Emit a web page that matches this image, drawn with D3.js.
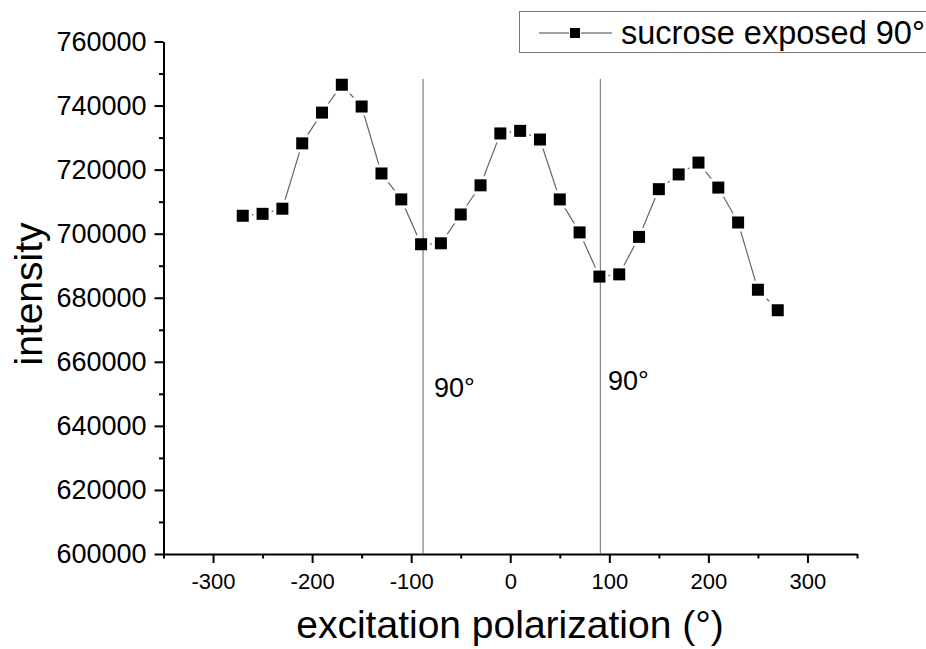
<!DOCTYPE html>
<html>
<head>
<meta charset="utf-8">
<script src="https://cdn.jsdelivr.net/npm/d3@7"></script>
<style>
  body { margin: 0; background: #fff; }
  text { font-family: "Liberation Sans", Arial, sans-serif; fill: #000; }
</style>
</head>
<body>
<div id="chart"></div>
<script>
// data
var angles = [-270, -250, -230, -210, -190, -170, -150, -130, -110, -90, -70, -50, -30, -10,
  10, 30, 50, 70, 90, 110, 130, 150, 170, 190, 210, 230, 250, 270];
var intensity = [705600, 706200, 707800, 728200, 737800, 746500, 739700, 718800, 710700, 696700,
  697000, 706000, 715100, 731300, 732100, 729400, 710700, 700400, 686600, 687300,
  699000, 713900, 718500, 722200, 714400, 703500, 682500, 676100];
var xTicks = [-300, -200, -100, 0, 100, 200, 300];
var xMinor = [-350, -250, -150, -50, 50, 150, 250, 350];
var yTicks = [600000, 620000, 640000, 660000, 680000, 700000, 720000, 740000, 760000];
var yMinor = [610000, 630000, 650000, 670000, 690000, 710000, 730000, 750000];
var markerLines = [-88, 91];   // the two "90°" guide lines
var seriesName = 'sucrose exposed 90°';

var width = 926;
var height = 649;

var svg = d3.select('#chart')
    .append('svg')
    .attr('width', width)
    .attr('height', height);

// Scales
var scaleX = d3.scaleLinear()
    .domain([-350, 350])
    .range([163.5, 857]);

var scaleY = d3.scaleLinear()
    .domain([600000, 760000])
    .range([554, 41.5]);

// plain hyphen for negatives, as in the original
var plain = function(d) { return String(d); };

// Axes
var xAxis = svg.append('g')
    .attr('transform', 'translate(0,554)')
    .call(d3.axisBottom(scaleX).tickValues(xTicks).tickSize(9).tickSizeOuter(0).tickPadding(10)
      .tickFormat(plain));
xAxis.selectAll('text').attr('font-size', 22).attr('font-family', '"Liberation Sans", Arial, sans-serif');

svg.append('g')
    .attr('transform', 'translate(0,554)')
    .call(d3.axisBottom(scaleX).tickValues(xMinor).tickSize(4.5).tickSizeOuter(0).tickFormat(''))
    .call(function(g) { g.select('.domain').remove(); });

var yAxis = svg.append('g')
    .attr('transform', 'translate(163.5,0)')
    .call(d3.axisLeft(scaleY).tickValues(yTicks).tickSize(9).tickSizeOuter(0).tickPadding(8)
      .tickFormat(plain));
yAxis.selectAll('text').attr('font-size', 27).attr('font-family', '"Liberation Sans", Arial, sans-serif');

svg.append('g')
    .attr('transform', 'translate(163.5,0)')
    .call(d3.axisLeft(scaleY).tickValues(yMinor).tickSize(4.5).tickSizeOuter(0).tickFormat(''))
    .call(function(g) { g.select('.domain').remove(); });

svg.selectAll('.domain, .tick line').attr('stroke', '#000').attr('stroke-width', 2);

// Axis titles
svg.append('text')
    .text('excitation polarization (°)')
    .attr('x', 510)
    .attr('y', 638)
    .attr('font-size', 39)
    .attr('text-anchor', 'middle');

svg.append('text')
    .text('intensity')
    .attr('transform', 'translate(42,294) rotate(-90)')
    .attr('font-size', 39)
    .attr('text-anchor', 'middle');

// Series line
var points = angles.map(function(a, i) { return [a, intensity[i]]; });

svg.append('path')
    .datum(points)
    .attr('fill', 'none')
    .attr('stroke', '#666')
    .attr('stroke-width', 1.2)
    .attr('d', d3.line()
      .x(function(d) { return scaleX(d[0]); })
      .y(function(d) { return scaleY(d[1]); }));

// white gap round each marker, like Origin does
svg.selectAll('rect.halo')
    .data(points)
    .enter()
    .append('rect')
    .attr('class', 'halo')
    .attr('x', function(d) { return scaleX(d[0]) - 9; })
    .attr('y', function(d) { return scaleY(d[1]) - 9; })
    .attr('width', 18)
    .attr('height', 18)
    .attr('fill', '#fff');

// Guide lines
svg.selectAll('line.guide')
    .data(markerLines)
    .enter()
    .append('line')
    .attr('class', 'guide')
    .attr('x1', function(d) { return scaleX(d); })
    .attr('x2', function(d) { return scaleX(d); })
    .attr('y1', 79)
    .attr('y2', 553)
    .attr('stroke', '#888')
    .attr('stroke-width', 1.3);

svg.append('text').text('90°').attr('x', 434).attr('y', 397).attr('font-size', 27);
svg.append('text').text('90°').attr('x', 608).attr('y', 390).attr('font-size', 27);

// Markers
svg.selectAll('rect.pt')
    .data(points)
    .enter()
    .append('rect')
    .attr('class', 'pt')
    .attr('x', function(d) { return scaleX(d[0]) - 6; })
    .attr('y', function(d) { return scaleY(d[1]) - 6; })
    .attr('width', 12)
    .attr('height', 12)
    .attr('fill', '#000');

// Legend
var legend = svg.append('g');
legend.append('rect')
    .attr('x', 519.5)
    .attr('y', 11.5)
    .attr('width', 420)
    .attr('height', 41)
    .attr('fill', '#fff')
    .attr('stroke', '#777')
    .attr('stroke-width', 1);
legend.append('line')
    .attr('x1', 539).attr('x2', 569).attr('y1', 33).attr('y2', 33)
    .attr('stroke', '#666').attr('stroke-width', 1.2);
legend.append('line')
    .attr('x1', 581).attr('x2', 612).attr('y1', 33).attr('y2', 33)
    .attr('stroke', '#666').attr('stroke-width', 1.2);
legend.append('rect')
    .attr('x', 570).attr('y', 28).attr('width', 10).attr('height', 10)
    .attr('fill', '#000');
legend.append('text')
    .text(seriesName)
    .attr('x', 621)
    .attr('y', 44)
    .attr('font-size', 32.5);
</script>
</body>
</html>
